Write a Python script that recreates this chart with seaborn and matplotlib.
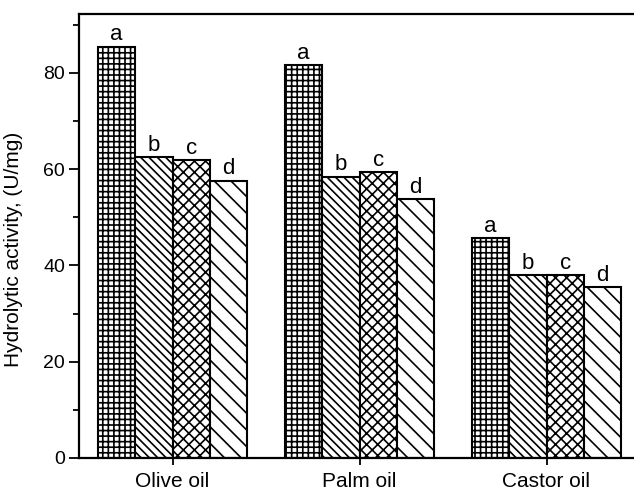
import matplotlib
matplotlib.use("Agg")
import matplotlib.pyplot as plt
import seaborn as sns
import pandas as pd
from matplotlib.ticker import MultipleLocator

oils = ["Olive oil", "Palm oil", "Castor oil"]
treatments = ["T1", "T2", "T3", "T4"]
values = {
    "T1": [85.4, 81.6, 45.7],
    "T2": [62.5, 58.4, 38.0],
    "T3": [61.9, 59.4, 38.0],
    "T4": [57.6, 53.8, 35.5],
}
letters = ["a", "b", "c", "d"]
hatches = ["+++", "\\\\\\\\", "xxx", "\\\\"]

rows = []
for t in treatments:
    for o, v in zip(oils, values[t]):
        rows.append({"oil": o, "treatment": t, "value": v})
df = pd.DataFrame(rows)

sns.set_style("white")
plt.rcParams["font.family"] = ["Liberation Sans", "DejaVu Sans"]
plt.rcParams["hatch.linewidth"] = 1.2
plt.rcParams["hatch.color"] = "black"
plt.rcParams["text.color"] = "black"
plt.rcParams["axes.labelcolor"] = "black"
plt.rcParams["xtick.color"] = "black"
plt.rcParams["ytick.color"] = "black"

fig = plt.figure(figsize=(6.34, 4.91), dpi=100)
ax = fig.add_axes([79 / 634, 1 - 458 / 491, (640 - 79) / 634, (458 - 14) / 491])

palette = {t: "white" for t in treatments}
sns.barplot(data=df, x="oil", y="value", hue="treatment", order=oils,
            hue_order=treatments, palette=palette, edgecolor="black",
            linewidth=1.5, width=0.8, ax=ax, legend=False, errorbar=None,
            saturation=1)

for cont, h, let in zip(ax.containers, hatches, letters):
    for bar in cont:
        bar.set_hatch(h)
        bar.set_edgecolor("black")
        x = bar.get_x() + bar.get_width() / 2
        y = bar.get_height()
        ax.annotate(let, (x, y), xytext=(0, 1), textcoords="offset points",
                    ha="center", va="bottom", fontsize=16)

ax.set_xlim(-0.5, 2.5)
ax.set_ylim(0, 92.2)
ax.yaxis.set_major_locator(MultipleLocator(20))
ax.yaxis.set_minor_locator(MultipleLocator(10))
ax.tick_params(axis="y", which="major", direction="out", length=7, width=1.3,
               left=True, labelsize=14, pad=3)
ax.tick_params(axis="y", which="minor", direction="out", length=4, width=1.3,
               left=True)
ax.tick_params(axis="x", which="major", direction="out", length=5, width=1.3,
               bottom=True, labelsize=15, pad=5)
for s in ax.spines.values():
    s.set_linewidth(1.6)
    s.set_color("black")
ax.set_xlabel("")
ax.set_ylabel("Hydrolytic activity, (U/mg)", fontsize=15)
ax.yaxis.set_label_coords(-0.1, 0.47)

fig.savefig("out.png", dpi=100)
